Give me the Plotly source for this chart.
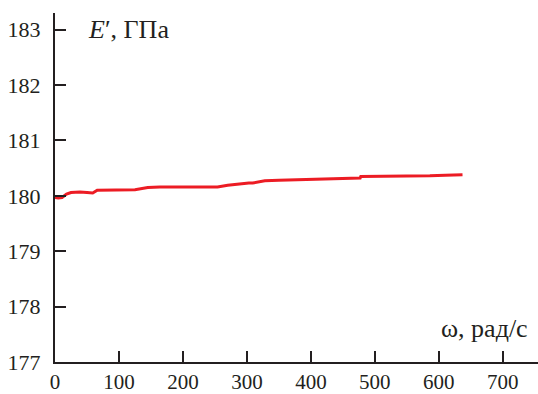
import plotly.graph_objects as go

omega = [0, 5, 11, 18, 25, 39, 50, 59, 66, 80, 100, 125, 145, 164, 200, 230, 254, 270, 284, 303, 309, 328, 350, 383, 420, 460, 477, 478, 520, 560, 586, 610, 637]
E = [179.97, 179.96, 179.97, 180.03, 180.06, 180.07, 180.06, 180.05, 180.10, 180.10, 180.10, 180.11, 180.15, 180.16, 180.16, 180.16, 180.16, 180.19, 180.21, 180.23, 180.23, 180.27, 180.28, 180.29, 180.30, 180.31, 180.32, 180.35, 180.35, 180.35, 180.36, 180.37, 180.38]

x_ticks = [0, 100, 200, 300, 400, 500, 600, 700]
y_ticks = [177, 178, 179, 180, 181, 182, 183]

FAM = "Liberation Serif"
font = dict(family=FAM, size=22, color="#231f20")

fig = go.Figure()
fig.add_trace(go.Scatter(x=omega, y=E, mode="lines",
                         line=dict(color="#ec1c24", width=3), showlegend=False))

fig.update_layout(
    width=538, height=394,
    margin=dict(l=55, r=0, t=13, b=32, autoexpand=False),
    paper_bgcolor="white", plot_bgcolor="white",
    font=font,
    xaxis=dict(range=[0, 755], tickvals=x_ticks, ticks="inside", ticklen=11,
               tickwidth=1.5, tickcolor="#231f20", showline=True, linewidth=2,
               linecolor="#231f20", showgrid=False, zeroline=False,
               tickfont=dict(family=FAM, size=21, color="#231f20"),
               ticklabelstandoff=0, automargin=False),
    yaxis=dict(range=[177, 183.3], tickvals=y_ticks, ticks="inside", ticklen=11,
               tickwidth=1.5, tickcolor="#231f20", showline=True, linewidth=2,
               linecolor="#231f20", showgrid=False, zeroline=False, tickfont=font,
               ticklabelstandoff=8, automargin=False),
)
fig.add_annotation(xref="paper", yref="paper", x=(86-55)/483, y=(362-29)/349,
                   xanchor="left", yanchor="middle", showarrow=False,
                   text="<i>E</i>′, ГПа", font=dict(family=FAM, size=26, color="#231f20"))
fig.add_annotation(xref="paper", yref="paper", x=(530-55)/483, y=(362-328)/349,
                   xanchor="right", yanchor="middle", showarrow=False,
                   text="ω, рад/с", font=dict(family=FAM, size=26, color="#231f20"))
fig.write_html("out.html")
